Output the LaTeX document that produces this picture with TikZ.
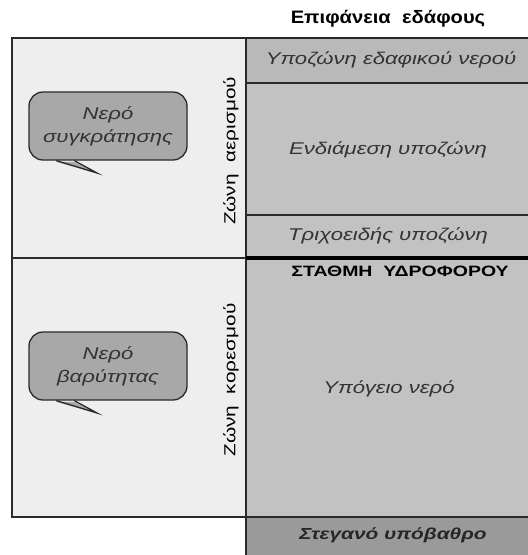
\documentclass[tikz,border=0pt]{standalone}
\usepackage{fontspec}
\setmainfont{Liberation Sans}
\newfontfamily\wide[FakeStretch=1.12]{Liberation Sans}
\newfontfamily\wider[FakeStretch=1.3]{Liberation Sans}
\usetikzlibrary{calc}
\definecolor{leftfill}{HTML}{EEEEEE}
\definecolor{rowA}{HTML}{B9B9B9}
\definecolor{rowB}{HTML}{C2C2C2}
\definecolor{rowC}{HTML}{9A9A9A}
\definecolor{callfill}{HTML}{A8A8A8}
\definecolor{txt}{HTML}{333333}
\definecolor{edge}{HTML}{2A2A2A}
\tikzset{
  cell/.style={draw=edge, line width=1.3pt, inner sep=0pt},
  lbl/.style={font=\wider\itshape\fontsize{17}{19}\selectfont, text=txt},
  zone/.style={font=\wider\fontsize{16}{18}\selectfont, text=black, rotate=90},
  bubble/.style={draw=edge, line width=1.3pt, fill=callfill, rounded corners=14pt,
     minimum width=158pt, minimum height=68pt, align=center, inner sep=0pt,
     font=\wider\itshape\fontsize{17}{23}\selectfont, text=txt},
}
\begin{document}
\begin{tikzpicture}[x=1pt,y=-1pt]
\clip (0,0) rectangle (528,555);
\fill[white] (0,0) rectangle (528,555);
% left column
\path[cell, fill=leftfill] (12,38) rectangle (246,517);
\coordinate (lm) at (12,258);
\coordinate (rm) at (246,258);
\draw[edge, line width=1.3pt] (lm) -- (rm);
% right column rows
\path[cell, fill=rowA] (246,38) rectangle (540,83);
\path[cell, fill=rowB] (246,83) rectangle (540,215);
\path[cell, fill=rowB] (246,215) rectangle (540,258);
\path[cell, fill=rowB] (246,258) rectangle (540,517);
\path[cell, fill=rowC] (246,517) rectangle (540,560);
\coordinate (wl) at (246,258);
\coordinate (wr) at (540,258);
\draw[black, line width=4pt] (wl) -- (wr);
% texts
\node[font=\wide\bfseries\fontsize{18}{20}\selectfont] (title) at (388,19) {Επιφάνεια\ \ εδάφους};
\node[lbl] (r1) at (391,60) {Υποζώνη εδαφικού νερού};
\node[lbl] (r2) at (388,150) {Ενδιάμεση υποζώνη};
\node[lbl] (r3) at (388,236) {Τριχοειδής υποζώνη};
\node[font=\wider\bfseries\fontsize{15}{17}\selectfont] (wt) at (400,271) {ΣΤΑΘΜΗ\ \ ΥΔΡΟΦΟΡΟΥ};
\node[lbl] (r4) at (389,389) {Υπόγειο νερό};
\node[lbl, font=\wider\bfseries\itshape\fontsize{16}{18}\selectfont, text=black!85] (r5) at (393,535) {Στεγανό υπόβαθρο};
\node[zone] (z1) at (231,151) {Ζώνη\ \ αερισμού};
\node[zone] (z2) at (231,380) {Ζώνη\ \ κορεσμού};
% callouts
\node[bubble] (c1) at (108,126) {Νερό\\συγκράτησης};
\coordinate (t1) at (97,173);
\fill[callfill] ($(c1.south west)+(28,1.3)$) -- (t1) -- ($(c1.south west)+(46,1.3)$) -- cycle;
\draw[edge, line width=1.3pt, line join=miter] ($(c1.south west)+(28,0)$) -- (t1) -- ($(c1.south west)+(46,0)$);
\node[bubble] (c2) at (108,366) {Νερό\\βαρύτητας};
\coordinate (t2) at (97,413);
\fill[callfill] ($(c2.south west)+(28,1.3)$) -- (t2) -- ($(c2.south west)+(46,1.3)$) -- cycle;
\draw[edge, line width=1.3pt, line join=miter] ($(c2.south west)+(28,0)$) -- (t2) -- ($(c2.south west)+(46,0)$);
\end{tikzpicture}
\end{document}
